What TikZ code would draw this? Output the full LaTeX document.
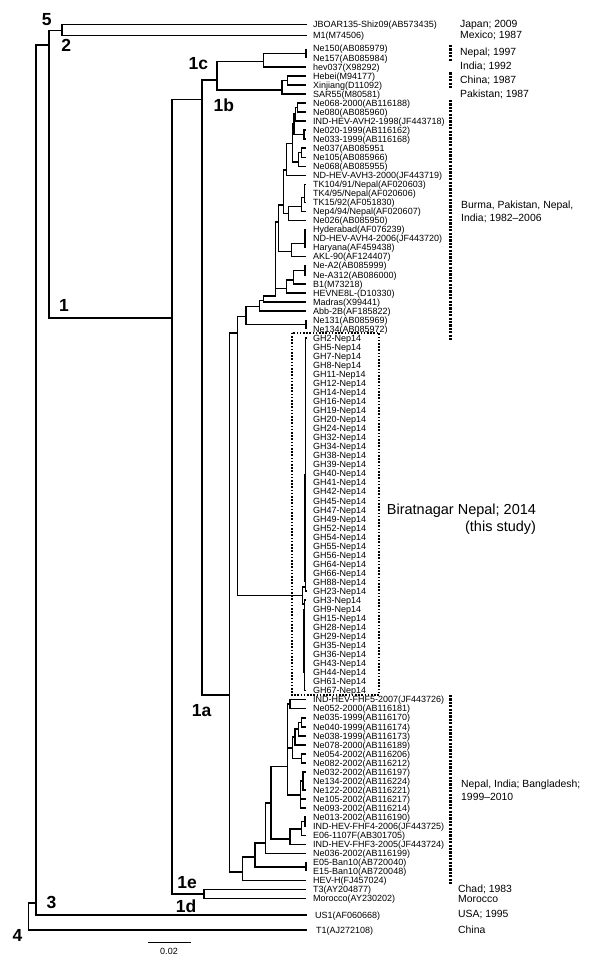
\documentclass[tikz,border=0pt]{standalone}
\usepackage{fontspec}
\setmainfont{Liberation Sans}
\newcommand\myleaf[3]{%
  \coordinate (#1) at (306,{94+9.04*(#2)});
  \node[lbl] (#1t) at (313,{97.2+9.04*(#2)}) {#3};}
\begin{document}
\begin{tikzpicture}[x=1pt,y=-1pt,
  tree/.style={line width=1.5pt},
  lbl/.style={anchor=base west,inner sep=0pt,font=\fontsize{9}{10}\selectfont},
  ann/.style={anchor=west,inner sep=0pt,font=\fontsize{10.4}{13}\selectfont,align=left},
  bigt/.style={inner sep=0pt,font=\fontsize{14.5}{17}\selectfont},
  gt/.style={inner sep=0pt,font=\fontsize{17.5}{18}\selectfont\bfseries},
  boxdot/.style={line width=1.7pt,dash pattern=on 1.6pt off 1.6pt},
  bar/.style={line width=3pt,dash pattern=on 2.2pt off 1.2pt}]
\useasboundingbox (0,0) rectangle (600,968);
% ---------- leaves ----------
\coordinate (JB) at (307,24.5); \node[lbl] (JBt) at (313,27.7) {JBOAR135-Shiz09(AB573435)};
\coordinate (Mone) at (307,35.5); \node[lbl] (Monet) at (313,38.7) {M1(M74506)};
\myleaf{Ne150}{-5}{Ne150(AB085979)}
\myleaf{Ne157}{-4}{Ne157(AB085984)}
\myleaf{hev037}{-3}{hev037(X98292)}
\myleaf{Hebei}{-2}{Hebei(M94177)}
\myleaf{Xinjiang}{-1}{Xinjiang(D11092)}
\myleaf{SAR55}{0}{SAR55(M80581)}
\myleaf{Ne068b}{1}{Ne068-2000(AB116188)}
\myleaf{Ne080}{2}{Ne080(AB085960)}
\myleaf{AVH2}{3}{IND-HEV-AVH2-1998(JF443718)}
\myleaf{Ne020}{4}{Ne020-1999(AB116162)}
\myleaf{Ne033}{5}{Ne033-1999(AB116168)}
\myleaf{Ne037}{6}{Ne037(AB085951}
\myleaf{Ne105}{7}{Ne105(AB085966)}
\myleaf{Ne068}{8}{Ne068(AB085955)}
\myleaf{AVH3}{9}{ND-HEV-AVH3-2000(JF443719)}
\myleaf{TKa}{10}{TK104/91/Nepal(AF020603)}
\myleaf{TKb}{11}{TK4/95/Nepal(AF020606)}
\myleaf{TKc}{12}{TK15/92(AF051830)}
\myleaf{Nep4}{13}{Nep4/94/Nepal(AF020607)}
\myleaf{Ne026}{14}{Ne026(AB085950)}
\myleaf{Hyd}{15}{Hyderabad(AF076239)}
\myleaf{AVH4}{16}{ND-HEV-AVH4-2006(JF443720)}
\myleaf{Har}{17}{Haryana(AF459438)}
\myleaf{AKL}{18}{AKL-90(AF124407)}
\myleaf{NeAa}{19}{Ne-A2(AB085999)}
\myleaf{NeAb}{20}{Ne-A312(AB086000)}
\myleaf{Bone}{21}{B1(M73218)}
\myleaf{HEVNE}{22}{HEVNE8L-(D10330)}
\myleaf{Madras}{23}{Madras(X99441)}
\myleaf{Abb}{24}{Abb-2B(AF185822)}
\myleaf{Ne131}{25}{Ne131(AB085969)}
\myleaf{Ne134}{26}{Ne134(AB085972)}
\foreach \n [count=\i from 27] in {2,5,7,8,11,12,14,16,19,20,24,32,34,38,39,40,41,42,45,47,49,52,54,55,56,64,66,88,23,3,9,15,28,29,35,36,43,44,61,67}
  {\myleaf{GH\n}{\i}{GH\n-Nep14}}
\myleaf{FHF5}{67}{IND-HEV-FHF5-2007(JF443726)}
\myleaf{Ne052}{68}{Ne052-2000(AB116181)}
\myleaf{Ne035}{69}{Ne035-1999(AB116170)}
\myleaf{Ne040}{70}{Ne040-1999(AB116174)}
\myleaf{Ne038}{71}{Ne038-1999(AB116173)}
\myleaf{Ne078}{72}{Ne078-2000(AB116189)}
\myleaf{Ne054}{73}{Ne054-2002(AB116206)}
\myleaf{Ne082}{74}{Ne082-2002(AB116212)}
\myleaf{Ne032}{75}{Ne032-2002(AB116197)}
\myleaf{NeBa}{76}{Ne134-2002(AB116224)}
\myleaf{Ne122}{77}{Ne122-2002(AB116221)}
\myleaf{NeBb}{78}{Ne105-2002(AB116217)}
\myleaf{Ne093}{79}{Ne093-2002(AB116214)}
\myleaf{Ne013}{80}{Ne013-2002(AB116190)}
\myleaf{FHF4}{81}{IND-HEV-FHF4-2006(JF443725)}
\myleaf{E06}{82}{E06-1107F(AB301705)}
\myleaf{FHF3}{83}{IND-HEV-FHF3-2005(JF443724)}
\myleaf{Ne036}{84}{Ne036-2002(AB116199)}
\myleaf{E05}{85}{E05-Ban10(AB720040)}
\myleaf{E15}{86}{E15-Ban10(AB720048)}
\myleaf{HEVH}{87}{HEV-H(FJ457024)}
\myleaf{T3}{88}{T3(AY204877)}
\myleaf{Morocco}{89}{Morocco(AY230202)}
\coordinate (US1) at (307,915); \node[lbl] (US1t) at (315,918.2) {US1(AF060668)};
\coordinate (T1) at (307,930); \node[lbl] (T1t) at (316,933.2) {T1(AJ272108)};
% ---------- internal nodes ----------
\coordinate (n62) at (62,30.7);
\coordinate (n49) at (49,45);
\coordinate (n36) at (36,903);
\coordinate (nr) at (28.6,916);
\coordinate (n172) at (172,318);
\coordinate (n202) at (202,99.3);
\coordinate (n217) at (217,80);
\coordinate (n263) at (263.3,61.7);
\coordinate (nc) at (306,53.3);
\coordinate (n282) at (282,90);
\coordinate (nHX) at (287.3,80.4);
\coordinate (n229) at (229.3,695);
\coordinate (nE4) at (237.3,333);
\coordinate (nE3) at (246,316.7);
\coordinate (nF1) at (306,324.5);
\coordinate (nE2) at (259.3,306.7);
\coordinate (nE1) at (263.3,300.7);
\coordinate (nA11) at (275.5,296);
\coordinate (nA10) at (278.3,222);
\coordinate (nN1) at (283.5,205);
\coordinate (nA8) at (286.5,170);
\coordinate (nA7) at (292.5,143.3);
\coordinate (nA4) at (294,124);
\coordinate (nA2) at (295.5,114);
\coordinate (nA1) at (297.5,107.5);
\coordinate (nA3) at (304,134.6);
\coordinate (nA6) at (298.3,162);
\coordinate (nA5) at (301.7,152.7);
\coordinate (nB3) at (288.3,213.5);
\coordinate (nB2) at (301.7,206.7);
\coordinate (nB1) at (304.5,197.3);
\coordinate (nC2) at (291.7,251.7);
\coordinate (nC1) at (305,243.3);
\coordinate (nD3) at (286.7,288.3);
\coordinate (nD2) at (293.3,280);
\coordinate (nD1) at (305,270.3);
\coordinate (nG) at (302.7,595.7);
\coordinate (nGa) at (305.5,587);
\coordinate (nGb) at (304.5,604);
\coordinate (nJ6) at (242.6,872);
\coordinate (nJ5) at (255,857);
\coordinate (nEE) at (306,866.9);
\coordinate (nJ3) at (265.3,843);
\coordinate (nJ4) at (271,803);
\coordinate (nJ2) at (290,839);
\coordinate (nJ1) at (301.5,829);
\coordinate (nJ1a) at (305,821.7);
\coordinate (nK8) at (287.3,766.7);
\coordinate (nK0) at (290,704.2);
\coordinate (nK5) at (292.3,748);
\coordinate (nK3) at (295,737);
\coordinate (nK2) at (298.3,729);
\coordinate (nK1) at (301.7,722.3);
\coordinate (nK4) at (301.7,758.4);
\coordinate (nK7) at (300.7,795);
\coordinate (nK6) at (303,781);
\coordinate (n204) at (204,894);
% ---------- branches ----------
\begin{scope}[tree]
\draw (JB) -| (n62) |- (Mone);
\draw (n62) -| (n49) |- (n172);
\draw (n49) -| (n36) |- (US1);
\draw (n36) -| (nr) |- (T1);
\draw (n202) -| (n172) |- (n204);
\draw (T3) -| (n204) |- (Morocco);
\draw (n217) -| (n202) |- (n229);
\draw (n263) -| (n217) |- (n282);
\draw (nc) -| (n263) |- (hev037);
\draw (Ne150) -- (Ne157);
\draw (nHX) -| (n282) |- (SAR55);
\draw (Hebei) -| (nHX) |- (Xinjiang);
\draw (nE4) -| (n229) |- (nJ6);
\draw (nE3) -| (nE4) |- (nG);
\draw (nE2) -| (nE3) |- (nF1);
\draw (Ne131) -- (Ne134);
\draw (nE1) -| (nE2) |- (Abb);
\draw (nA11) -| (nE1) |- (Madras);
\draw (nA10) -| (nA11) |- (nD3);
\draw (nN1) -| (nA10) |- (nC2);
\draw (nA8) -| (nN1) |- (nB3);
\draw (nA7) -| (nA8) |- (AVH3);
\draw (nA4) -| (nA7) |- (nA6);
\draw (nA2) -| (nA4) |- (nA3);
\draw (nA1) -| (nA2) |- (AVH2);
\draw (Ne068b) -| (nA1) |- (Ne080);
\draw (Ne020) -| (nA3) |- (Ne033);
\draw (nA5) -| (nA6) |- (Ne068);
\draw (Ne037) -| (nA5) |- (Ne105);
\draw (nB2) -| (nB3) |- (Ne026);
\draw (nB1) -| (nB2) |- (Nep4);
\draw (TKa) -| (nB1) |- (TKc);
\draw (nC1) -| (nC2) |- (AKL);
\draw (Hyd) -| (nC1) |- (Har);
\draw (nD2) -| (nD3) |- (HEVNE);
\draw (nD1) -| (nD2) |- (Bone);
\draw (NeAa) -| (nD1) |- (NeAb);
\draw (nGa) -| (nG) |- (nGb);
\draw (GH2) -| (nGa) |- (GH23);
\draw (GH3) -| (nGb) |- (GH67);
\draw ([xshift=-1.3pt]GH40) -- ([xshift=-1.3pt]GH88);
\draw ([xshift=-2.6pt]GH9) -- ([xshift=-2.6pt]GH44);
\draw (nJ5) -| (nJ6) |- (HEVH);
\draw (nJ3) -| (nJ5) |- (nEE);
\draw (E05) -- (E15);
\draw (nJ4) -| (nJ3) |- (Ne036);
\draw (nK8) -| (nJ4) |- (nJ2);
\draw (nJ1) -| (nJ2) |- (FHF3);
\draw (nJ1a) -| (nJ1) |- (E06);
\draw (Ne013) -| (nJ1a) |- (FHF4);
\draw (nK0) -| (nK8) |- (nK7);
\draw (nK8 |- nK5) -- (nK5);
\draw (FHF5) -| (nK0) |- (Ne052);
\draw (nK3) -| (nK5) |- (nK4);
\draw (nK2) -| (nK3) |- (Ne078);
\draw (nK1) -| (nK2) |- (Ne038);
\draw (Ne035) -| (nK1) |- (Ne040);
\draw (Ne054) -| (nK4) |- (Ne082);
\draw (nK6) -| (nK7) |- (Ne093);
\draw (nK7 |- NeBb) -- (NeBb);
\draw (Ne032) -| (nK6) |- (Ne122);
\end{scope}
% ---------- genotype labels ----------
\node[gt] (g5) at (46.7,20) {5};
\node[gt] (g2) at (66.3,45.5) {2};
\node[gt] (g1c) at (198.3,63.3) {1c};
\node[gt] (g1b) at (223.8,105.5) {1b};
\node[gt] (g1) at (64,305) {1};
\node[gt] (g1a) at (201.7,710.3) {1a};
\node[gt] (g1e) at (187.2,882.7) {1e};
\node[gt] (g1d) at (186,905.8) {1d};
\node[gt] (g3) at (51.6,902) {3};
\node[gt] (g4) at (17.6,935) {4};
% ---------- scale bar ----------
\coordinate (sa) at (147.7,942.3);
\coordinate (sb) at (190.8,942.3);
\draw[tree] (sa) -- (sb);
\node[inner sep=0pt,font=\fontsize{9}{10}\selectfont] (sl) at (169,951.5) {0.02};
% ---------- study box and bars ----------
\draw[boxdot] (291.7,332.7) rectangle (379,695);
\draw[bar] (450.7,45) -- (450.7,61.5);
\draw[bar] (450.7,72.5) -- (450.7,88.5);
\draw[bar] (450.7,100) -- (450.7,340);
\draw[bar] (450.7,695) -- (450.7,884);
% ---------- annotations ----------
\node[ann] (aJ) at (460,24.5) {Japan; 2009};
\node[ann] (aM) at (460,35.5) {Mexico; 1987};
\node[ann] (aN) at (460,53.3) {Nepal; 1997};
\node[ann] (aI) at (460,66.9) {India; 1992};
\node[ann] (aC) at (460,80.4) {China; 1987};
\node[ann] (aP) at (460,94) {Pakistan; 1987};
\node[ann] (aB) at (461,211.7) {Burma, Pakistan, Nepal,\\India; 1982--2006};
\node[bigt,anchor=base west] (bir1) at (386.7,514.9) {Biratnagar Nepal; 2014};
\node[bigt,anchor=base east] (bir2) at ([yshift=-17pt]bir1.base east) {(this study)};
\node[ann] (aNI) at (461,790.5) {Nepal, India; Bangladesh;\\1999--2010};
\node[ann] (aCh) at (458,889.5) {Chad; 1983};
\node[ann] (aMo) at (458,898.6) {Morocco};
\node[ann] (aU) at (458,915) {USA; 1995};
\node[ann] (aCn) at (458,930) {China};
\end{tikzpicture}
\end{document}
